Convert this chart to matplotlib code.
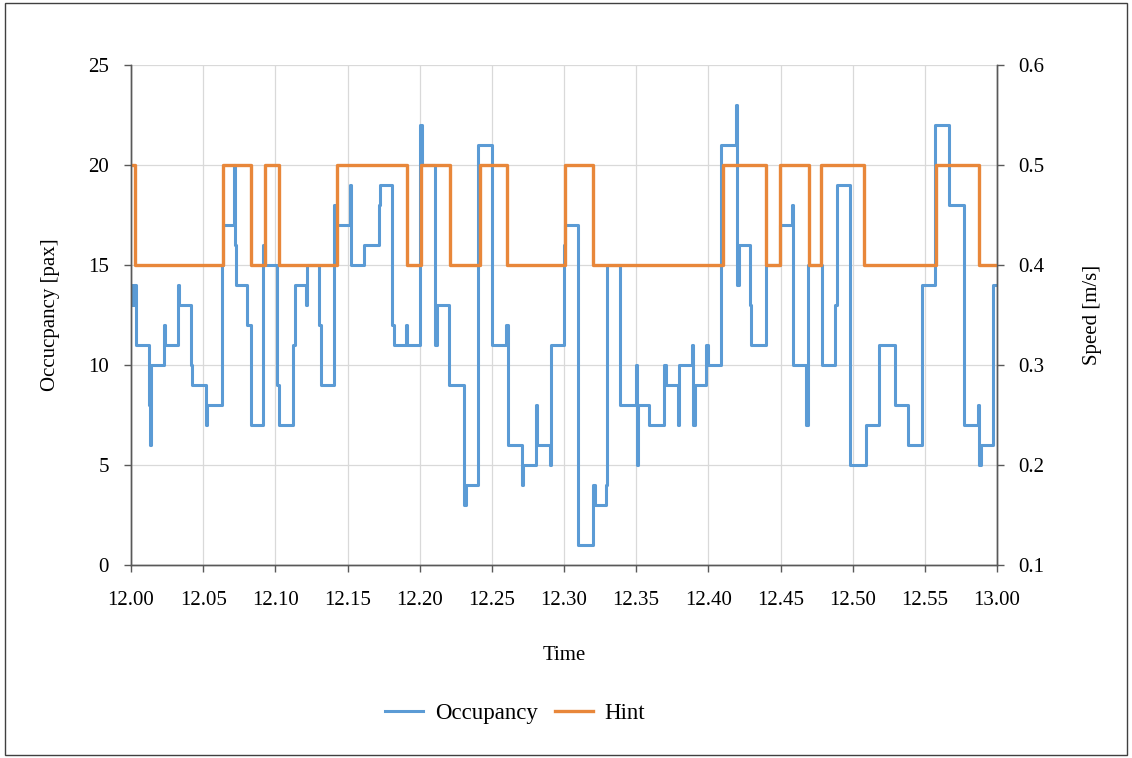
import matplotlib
matplotlib.use("Agg")
import matplotlib.pyplot as plt
from matplotlib.patches import Rectangle

# occupancy steps: minute after 12.00 where the count changes, and the new count
occ_min = [0.00, 0.10, 0.20, 0.37, 1.25, 1.30, 1.40, 2.29, 2.35, 3.28, 3.35,
           4.14, 4.25, 5.22, 5.30, 6.29, 6.40, 7.14, 7.22, 7.26, 8.07, 8.30,
           9.15, 9.30, 10.15, 10.22, 11.19, 11.35, 12.10, 12.20, 13.04, 13.15,
           14.08, 14.18, 15.15, 15.25, 16.16, 17.15, 17.25, 18.08, 18.20, 19.05,
           19.15, 20.02, 20.15, 21.08, 21.20, 22.00, 23.09, 23.20, 24.07, 25.00,
           25.98, 26.10, 27.10, 27.18, 28.06, 28.14, 29.03, 29.10, 30.03, 30.10,
           31.00, 32.04, 32.12, 32.90, 33.00, 33.90, 35.00, 35.05, 35.12, 35.90,
           36.96, 37.05, 37.90, 38.00, 38.90, 38.95, 39.05, 39.85, 40.00, 40.90,
           41.90, 42.00, 42.10, 42.86, 42.95, 44.00, 44.94, 45.80, 45.90, 46.80,
           46.90, 47.90, 48.80, 48.90, 49.80, 50.90, 51.80, 52.90, 53.80, 54.80,
           55.70, 56.70, 57.70, 58.70, 58.78, 58.90, 59.70, 60.00]
occ_pax = [14, 13, 14, 11, 8, 6, 10, 12, 11, 14, 13,
           10, 9, 7, 8, 15, 17, 20, 16, 14, 12, 7,
           16, 15, 9, 7, 11, 14, 13, 15, 12, 9,
           18, 17, 19, 15, 16, 18, 19, 12, 11, 12,
           11, 22, 20, 11, 13, 9, 3, 4, 21, 11,
           12, 6, 4, 5, 8, 6, 5, 11, 16, 17,
           1, 4, 3, 4, 15, 8, 10, 5, 8, 7,
           10, 9, 7, 10, 11, 7, 9, 11, 10, 21,
           23, 14, 16, 13, 11, 15, 17, 18, 10, 7,
           15, 10, 13, 19, 5, 7, 11, 8, 6, 14,
           22, 18, 7, 8, 5, 6, 14, 14]

# hint speed steps [m/s]
hint_min = [0.00, 0.28, 6.38, 8.30, 9.29, 10.26, 14.24, 19.10, 20.09, 22.10,
            24.18, 26.03, 30.10, 31.99, 41.00, 44.00, 44.94, 46.95, 47.83,
            50.79, 55.80, 58.74, 60.00]
hint_speed = [0.5, 0.4, 0.5, 0.4, 0.5, 0.4, 0.5, 0.4, 0.5, 0.4,
              0.5, 0.4, 0.5, 0.4, 0.5, 0.4, 0.5, 0.4, 0.5,
              0.4, 0.5, 0.4, 0.4]

x_ticks = list(range(0, 61, 5))
x_labels = ["13.00" if m == 60 else f"12.{m:02d}" for m in x_ticks]

BLUE = "#5b9bd5"
ORANGE = "#e8873a"
AXIS = "#595959"

plt.rcParams["font.family"] = ["Liberation Serif", "DejaVu Serif"]

fig = plt.figure(figsize=(11.32, 7.58), dpi=100)
ax = fig.add_axes([131 / 1132, 1 - 565 / 758, (997 - 131) / 1132, 500 / 758])
ax2 = ax.twinx()

l1, = ax.step(occ_min, occ_pax, where="post", color=BLUE, lw=2.2,
              label="Occupancy")
l2, = ax2.step(hint_min, hint_speed, where="post", color=ORANGE, lw=2.4,
               label="Hint")

ax.set_xlim(0, 60)
ax.set_ylim(0, 25)
ax2.set_ylim(0.1, 0.6)
ax.set_xticks(x_ticks)
ax.set_xticklabels(x_labels)
ax.set_yticks(range(0, 26, 5))
ax2.set_yticks([0.1, 0.2, 0.3, 0.4, 0.5, 0.6])
ax2.set_yticklabels(["0.1", "0.2", "0.3", "0.4", "0.5", "0.6"])

ax.grid(True, color="#d9d9d9", lw=0.9)
ax.set_axisbelow(True)

for a in (ax, ax2):
    a.spines["top"].set_visible(False)
    for s in ("left", "right", "bottom"):
        a.spines[s].set_color(AXIS)
        a.spines[s].set_linewidth(1.0)
    a.tick_params(colors=AXIS, labelcolor="black", labelsize=15,
                  length=5, width=1.0, direction="out")
ax.tick_params(axis="x", pad=14)
ax.tick_params(axis="y", pad=11)
ax2.tick_params(axis="y", pad=10)

ax.set_xlabel("Time", fontsize=15, labelpad=26)
ax.set_ylabel("Occucpancy [pax]", fontsize=15, labelpad=20)
ax2.set_ylabel("Speed [m/s]", fontsize=15, labelpad=28)

fig.legend(handles=[l1, l2], loc="center", bbox_to_anchor=(0.455, 1 - 713 / 758),
           ncol=2, frameon=False, fontsize=16.5, handlelength=1.65,
           columnspacing=0.75, handletextpad=0.5)

# thin frame around the whole figure
fig.patches.append(Rectangle((0.004, 0.004), 0.992, 0.992, transform=fig.transFigure,
                             fill=False, edgecolor="#404040", lw=1.0))

fig.savefig("out.png", dpi=100)
